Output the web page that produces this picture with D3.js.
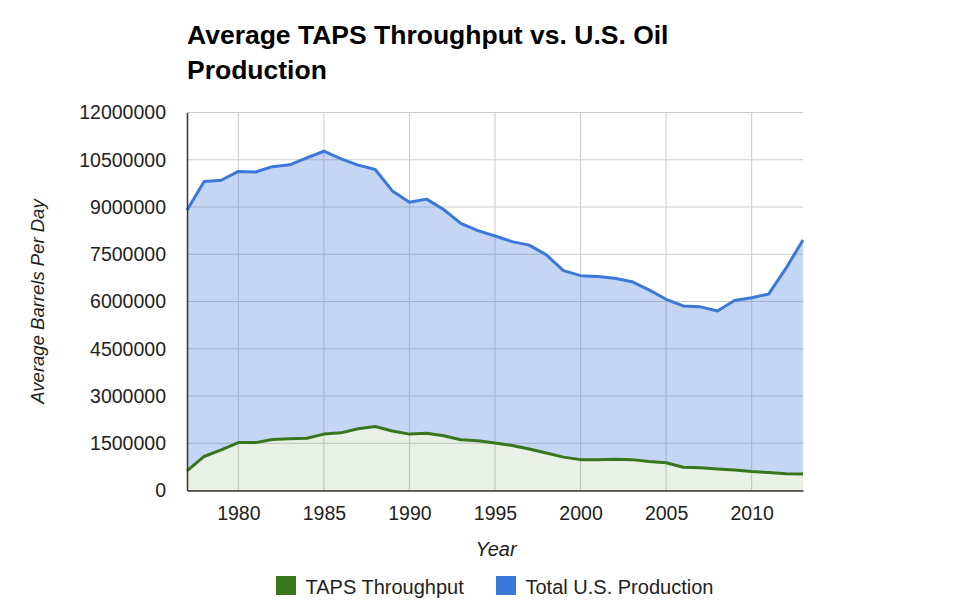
<!DOCTYPE html>
<html>
<head>
<meta charset="utf-8">
<script src="https://cdn.jsdelivr.net/npm/d3@7"></script>
<style>
  body { margin: 0; background: #fff; }
  svg text { font-family: "Liberation Sans", Arial, sans-serif; }
</style>
</head>
<body>
<div id="chart"></div>
<script>
// Data
var years = [1977, 1978, 1979, 1980, 1981, 1982, 1983, 1984, 1985, 1986, 1987, 1988, 1989,
  1990, 1991, 1992, 1993, 1994, 1995, 1996, 1997, 1998, 1999, 2000, 2001, 2002, 2003,
  2004, 2005, 2006, 2007, 2008, 2009, 2010, 2011, 2012, 2013];

var tapsThroughput = [620000, 1080000, 1290000, 1520000, 1520000, 1620000, 1640000, 1660000,
  1790000, 1830000, 1960000, 2030000, 1890000, 1790000, 1820000, 1740000, 1610000, 1580000,
  1510000, 1430000, 1320000, 1190000, 1060000, 980000, 980000, 990000, 980000, 920000,
  880000, 740000, 720000, 680000, 650000, 600000, 570000, 530000, 520000];

var usProduction = [8900000, 9810000, 9850000, 10130000, 10110000, 10280000, 10340000, 10560000,
  10770000, 10530000, 10330000, 10190000, 9510000, 9150000, 9250000, 8920000, 8480000, 8250000,
  8080000, 7900000, 7790000, 7480000, 6980000, 6820000, 6790000, 6740000, 6630000, 6370000,
  6070000, 5860000, 5830000, 5700000, 6030000, 6120000, 6240000, 7050000, 7950000];

var xTicks = [1980, 1985, 1990, 1995, 2000, 2005, 2010];
var yTicks = [0, 1500000, 3000000, 4500000, 6000000, 7500000, 9000000, 10500000, 12000000];

var seriesNames = ["TAPS Throughput", "Total U.S. Production"];
var seriesColors = ["#38761d", "#3c78d8"];

var svgWidth = 960;
var svgHeight = 607;

var margin = {
  top: 112.5,
  right: 157,
  bottom: 116.5,
  left: 187
};

var width = svgWidth - margin.left - margin.right;
var height = svgHeight - margin.top - margin.bottom;

var svg = d3.select("#chart")
  .append("svg")
  .attr("width", svgWidth)
  .attr("height", svgHeight);

var chartGroup = svg.append("g")
  .attr("transform", `translate(${margin.left}, ${margin.top})`);

var data = years.map(function(y, i) {
  return { year: y, taps: tapsThroughput[i], us: usProduction[i] };
});

// Scales
var xScale = d3.scaleLinear()
  .domain([d3.min(years), d3.max(years)])
  .range([0, width]);

var yScale = d3.scaleLinear()
  .domain([0, 12000000])
  .range([height, 0]);

// Gridlines
chartGroup.append("g")
  .selectAll("line")
  .data(yTicks)
  .enter()
  .append("line")
  .attr("x1", 0)
  .attr("x2", width)
  .attr("y1", d => yScale(d))
  .attr("y2", d => yScale(d))
  .attr("stroke", "#cccccc")
  .attr("stroke-width", 1);

chartGroup.append("g")
  .selectAll("line")
  .data(xTicks)
  .enter()
  .append("line")
  .attr("x1", d => xScale(d))
  .attr("x2", d => xScale(d))
  .attr("y1", 0)
  .attr("y2", height)
  .attr("stroke", "#cccccc")
  .attr("stroke-width", 1);

// Areas
var usArea = d3.area()
  .x(d => xScale(d.year))
  .y0(d => yScale(d.taps))
  .y1(d => yScale(d.us));

var tapsArea = d3.area()
  .x(d => xScale(d.year))
  .y0(yScale(0))
  .y1(d => yScale(d.taps));

chartGroup.append("path")
  .datum(data)
  .attr("d", usArea)
  .attr("fill", seriesColors[1])
  .attr("fill-opacity", 0.3);

chartGroup.append("path")
  .datum(data)
  .attr("d", tapsArea)
  .attr("fill", seriesColors[0])
  .attr("fill-opacity", 0.11);

// Lines
var usLine = d3.line()
  .x(d => xScale(d.year))
  .y(d => yScale(d.us));

var tapsLine = d3.line()
  .x(d => xScale(d.year))
  .y(d => yScale(d.taps));

chartGroup.append("path")
  .datum(data)
  .attr("d", usLine)
  .attr("fill", "none")
  .attr("stroke", seriesColors[1])
  .attr("stroke-width", 3)
  .attr("stroke-linejoin", "round");

chartGroup.append("path")
  .datum(data)
  .attr("d", tapsLine)
  .attr("fill", "none")
  .attr("stroke", seriesColors[0])
  .attr("stroke-width", 3)
  .attr("stroke-linejoin", "round");

// Axes
var bottomAxis = d3.axisBottom(xScale)
  .tickValues(xTicks)
  .tickFormat(d3.format("d"))
  .tickSize(0)
  .tickPadding(15.5);

var leftAxis = d3.axisLeft(yScale)
  .tickValues(yTicks)
  .tickFormat(d3.format("d"))
  .tickSize(0)
  .tickPadding(21);

var xAxisG = chartGroup.append("g")
  .attr("transform", `translate(0, ${height})`)
  .call(bottomAxis);

var yAxisG = chartGroup.append("g")
  .call(leftAxis);

[xAxisG, yAxisG].forEach(function(g) {
  g.select(".domain").attr("stroke", "#333333").attr("stroke-width", 1.5);
  g.selectAll("text")
    .attr("fill", "#222222")
    .style("font-size", "19.5px");
});

// Axis labels
chartGroup.append("text")
  .attr("transform", "rotate(-90)")
  .attr("x", 0 - (height / 2))
  .attr("y", 0 - margin.left + 44)
  .attr("text-anchor", "middle")
  .style("font-size", "18.5px")
  .style("font-style", "italic")
  .attr("fill", "#222222")
  .text("Average Barrels Per Day");

chartGroup.append("text")
  .attr("x", 496 - margin.left)
  .attr("y", height + 65.5)
  .attr("text-anchor", "middle")
  .style("font-size", "20px")
  .style("font-style", "italic")
  .attr("fill", "#222222")
  .text("Year");

// Title
var title = svg.append("text")
  .attr("x", 187)
  .attr("y", 43.5)
  .style("font-size", "26.5px")
  .style("font-weight", "bold")
  .attr("fill", "#000000");

title.append("tspan").attr("x", 187).attr("dy", 0).text("Average TAPS Throughput vs. U.S. Oil");
title.append("tspan").attr("x", 187).attr("dy", 35).text("Production");

// Legend
var legendX = [276, 496];
var legend = svg.append("g")
  .selectAll("g")
  .data(seriesNames)
  .enter()
  .append("g")
  .attr("transform", (d, i) => `translate(${legendX[i]}, 576)`);

legend.append("rect")
  .attr("width", 20)
  .attr("height", 19)
  .attr("fill", (d, i) => seriesColors[i]);

legend.append("text")
  .attr("x", 29.5)
  .attr("y", 17.5)
  .style("font-size", "20px")
  .attr("fill", "#222222")
  .text(d => d);
</script>
</body>
</html>
